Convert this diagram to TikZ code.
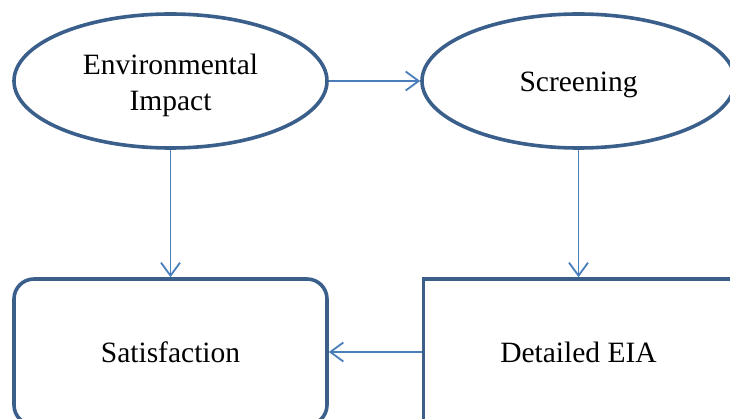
\documentclass[tikz,border=0pt]{standalone}
\usepackage{fontspec}
\setmainfont{Liberation Serif}
\usetikzlibrary{shapes.geometric,arrows.meta,positioning}
\definecolor{garis}{HTML}{3A5F8B}
\definecolor{panah}{HTML}{4A7EBB}
\tikzset{
  elips/.style={ellipse, draw=garis, line width=3.6pt, minimum width=313pt, minimum height=134pt, inner sep=0pt, align=center},
  kotak/.style={rectangle, draw=garis, line width=3.6pt, minimum width=313pt, minimum height=146pt, inner sep=0pt},
  panahbiru/.style={draw=panah, line width=1.8pt, -{Straight Barb[length=13pt,width=19pt]}}
}
\begin{document}
\begin{tikzpicture}[x=1pt, y=-1pt, font=\fontsize{29.5}{36}\selectfont]
        %BATAS
        \useasboundingbox (0,0) rectangle (730,419);
        \clip (0,0) rectangle (730,419);
        %ELIPS
        \node[elips] (env) at (170.5,81) {\raisebox{-4pt}[\height][\depth]{\begin{tabular}{@{}c@{}}Environmental\\Impact\end{tabular}}};
        \node[elips] (scr) at (578.5,81) {\raisebox{-4pt}[\height][\depth]{Screening}};
        %KOTAK
        \node[kotak, rounded corners=20pt] (sat) at (170.5,352) {Satisfaction};
        \node[kotak, minimum width=310pt] (eia) at (578.5,352) {Detailed EIA};
        %PANAH
        \draw[panahbiru] (env) -- (scr);
        \draw[panahbiru] (env.south) -- (sat.north);
        \draw[panahbiru] (scr.south) -- (eia.north);
        \draw[panahbiru] (eia.west) -- (sat.east);
    \end{tikzpicture}
\end{document}
